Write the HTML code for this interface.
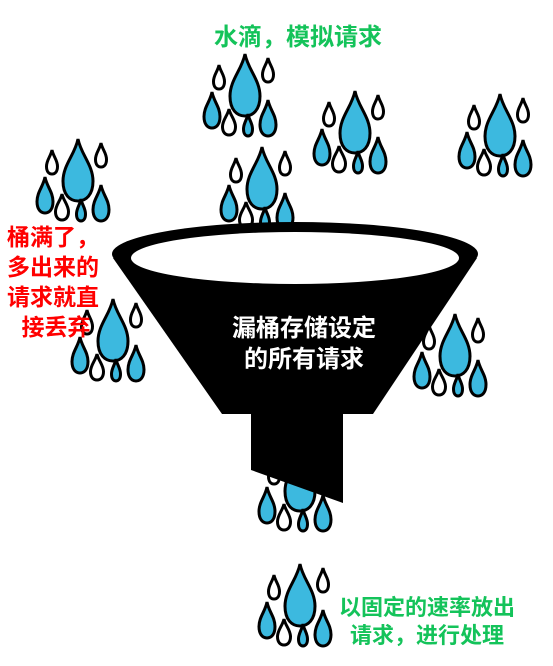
<!DOCTYPE html>
<html><head><meta charset="utf-8"><style>
html,body{margin:0;padding:0;background:#fff;width:553px;height:666px;overflow:hidden}
svg{display:block}
text{font-family:"Liberation Sans","Noto Sans CJK SC",sans-serif;font-weight:bold}
</style></head><body>
<svg width="553" height="666" viewBox="0 0 553 666">
<g id="drops"></g>
<g>
<path d="M113,258 L222,414 L373,414 L477,258 Z" fill="#000"/>
<ellipse cx="295" cy="254" rx="183" ry="32" fill="#000"/>
<ellipse cx="295" cy="258" rx="164" ry="26" fill="#fff"/>
<path d="M251,410 L343,410 L343,503 L251,470 Z" fill="#000"/>
<text x="304" y="336" font-size="24" fill="#fff" text-anchor="middle">漏桶存储设定</text>
<text x="304" y="367" font-size="24" fill="#fff" text-anchor="middle">的所有请求</text>
</g>
<g id="drops2"></g>
<text x="298" y="45" font-size="24" fill="#14c35a" text-anchor="middle">水滴，模拟请求</text>
<g fill="#ff0000" font-size="23" text-anchor="middle">
<text x="53" y="245">桶满了，</text>
<text x="53" y="275">多出来的</text>
<text x="53" y="305">请求就直</text>
<text x="56" y="335">接丢弃</text>
</g>
<g fill="#14c35a" font-size="22" text-anchor="middle">
<text x="427" y="615">以固定的速率放出</text>
<text x="427" y="643">请求，进行处理</text>
</g>
</svg>
<script>
const clusterX=[245,355,500,262,78,113,455];
const clusterY=[85,122,125,178,170,330,345];
const outX=[300,300];
const outY=[480,595];
const tmpl=[[0,0,30,62,1],[-26,-8,11,24,0],[23,-15,11,24,0],[-33,25,16,36,1],[-16,37,13,26,0],[3,40,9,22,1],[23,33,16,36,1]];
function dropPath(cx,cy,w,h){const t=cy-h/2,b=cy+h/2,r=w/2;
return `M${cx},${t} C${cx+w*0.1},${t+h*0.25} ${cx+r},${t+h*0.42} ${cx+r},${t+h*0.68} C${cx+r},${t+h*0.9} ${cx+w*0.27},${b} ${cx},${b} C${cx-w*0.27},${b} ${cx-r},${t+h*0.9} ${cx-r},${t+h*0.68} C${cx-r},${t+h*0.42} ${cx-w*0.1},${t+h*0.25} ${cx},${t} Z`;}
function draw(g,xs,ys){const ns='http://www.w3.org/2000/svg';
xs.forEach((x,i)=>{tmpl.forEach(d=>{const p=document.createElementNS(ns,'path');
p.setAttribute('d',dropPath(x+d[0],ys[i]+d[1],d[2],d[3]));
p.setAttribute('fill',d[4]?'#3cb9df':'#fff');p.setAttribute('stroke','#000');p.setAttribute('stroke-width','3');


g.appendChild(p);});});}
draw(document.getElementById('drops'),clusterX,clusterY);
draw(document.getElementById('drops'),[outX[0]],[outY[0]]);
draw(document.getElementById('drops2'),[outX[1]],[outY[1]]);
</script>
</body></html>
